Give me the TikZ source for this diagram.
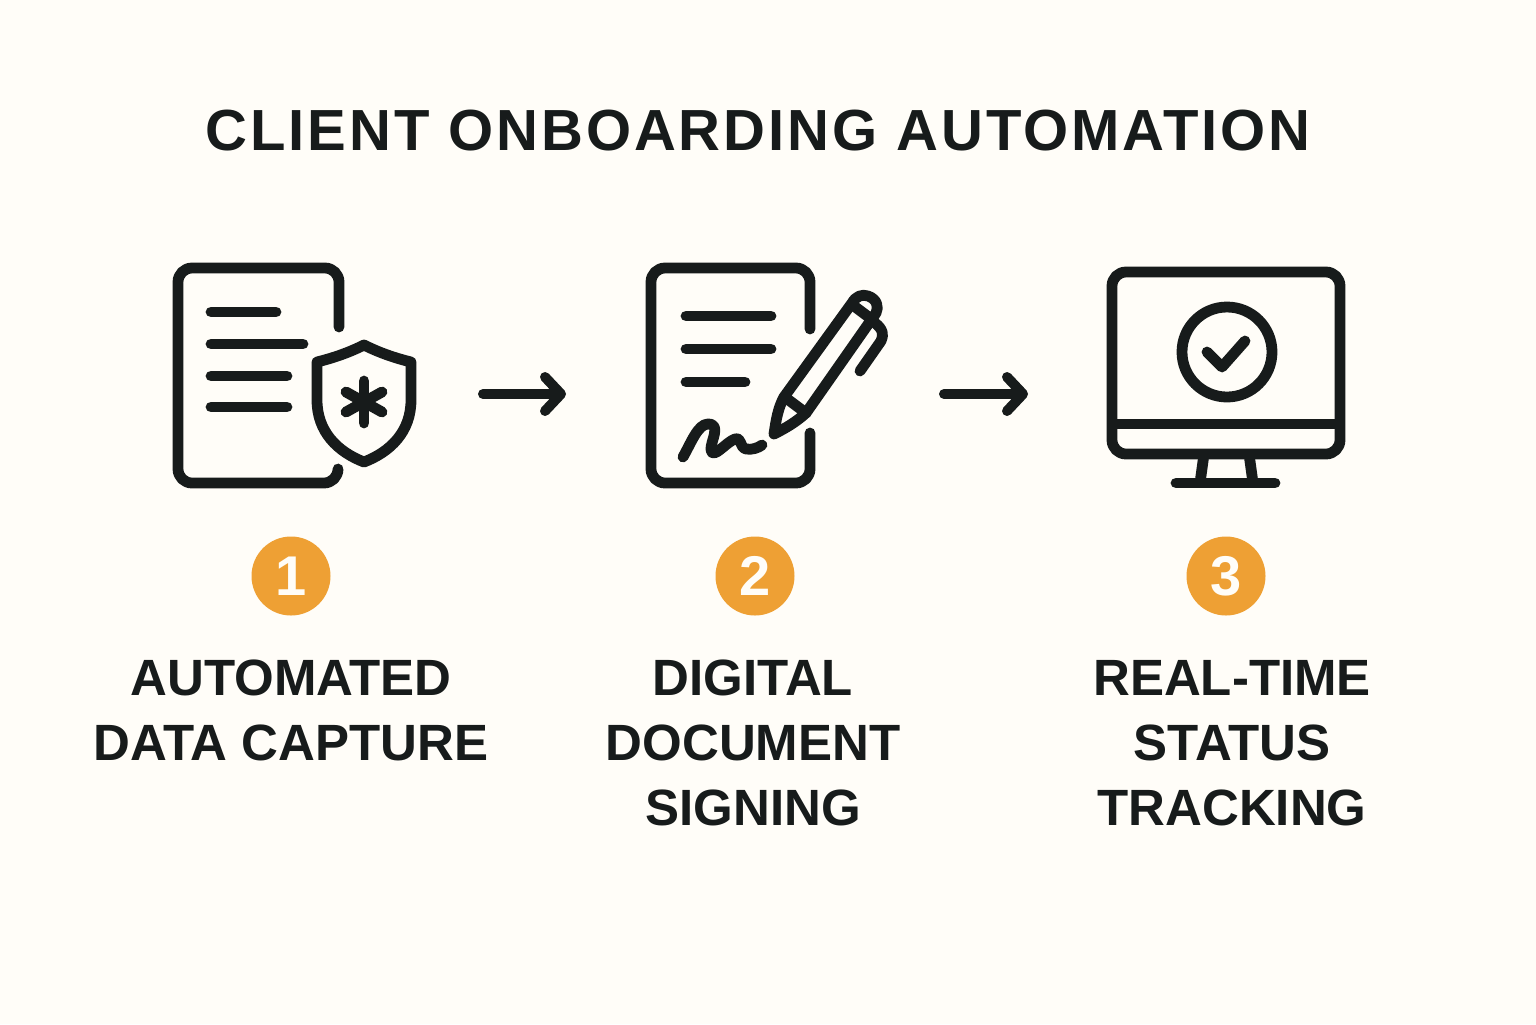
\documentclass[tikz,border=0pt]{standalone}
\usepackage{fontspec}
\setmainfont{Liberation Sans}
\newfontfamily\titlefont{Liberation Sans Bold}[LetterSpace=5]
\usetikzlibrary{arrows.meta}
\definecolor{inkColor}{HTML}{171B1B}
\definecolor{paperColor}{HTML}{FFFDF8}
\definecolor{badgeColor}{HTML}{EEA034}
\tikzset{
	iconStyle/.style = {draw = inkColor, line width = 5.4pt, line cap = round, line join = round},
	flowStyle/.style = {draw = inkColor, line width = 5pt, line cap = round, -{Straight Barb[length = 8pt, width = 17pt, round]}},
	badgeStyle/.style = {shape = circle, minimum size = 39.5pt, inner sep = 0pt, fill = badgeColor, text = paperColor, font = \fontsize{28}{28}\selectfont\bfseries},
	labelStyle/.style = {align = center, text = inkColor, font = \fontsize{25.5}{32.5}\selectfont\bfseries},
	titleStyle/.style = {text = inkColor, font = \fontsize{29}{29}\selectfont\titlefont}
}
\begin{document}
\begin{tikzpicture}[x = 0.5pt, y = -0.5pt]
	\fill[paperColor] (0,0) rectangle (1536,1024);
	\useasboundingbox (0,0) rectangle (1536,1024);
	\node[titleStyle] (title) at (758,131) {CLIENT ONBOARDING AUTOMATION};
	% first icon
	\draw[iconStyle] (339,327) -- (339,282) arc[start angle = 0, end angle = -90, radius = 14] -- (192,268) arc[start angle = 270, end angle = 180, radius = 14] -- (178,469) arc[start angle = 180, end angle = 90, radius = 14] -- (324,483) arc[start angle = 90, end angle = 0, radius = 14];
	\draw[iconStyle] (211,312) -- (276,312);
	\draw[iconStyle] (211,344) -- (303,344);
	\draw[iconStyle] (211,376) -- (287,376);
	\draw[iconStyle] (211,407) -- (287,407);
	\draw[iconStyle] (364,345) .. controls (380,353) and (395,358) .. (411,362) -- (411,400) .. controls (411,432) and (390,452) .. (364,462) .. controls (338,452) and (317,432) .. (317,400) -- (317,362) .. controls (333,358) and (348,353) .. (364,345) -- cycle;
	\draw[iconStyle] (364,381) -- (364,423);
	\draw[iconStyle] (346,392) -- (382,412);
	\draw[iconStyle] (346,412) -- (382,392);
	% second icon
	\draw[iconStyle] (810,329) -- (810,282) arc[start angle = 0, end angle = -90, radius = 14] -- (665,268) arc[start angle = 270, end angle = 180, radius = 14] -- (651,469) arc[start angle = 180, end angle = 90, radius = 14] -- (796,483) arc[start angle = 90, end angle = 0, radius = 14] -- (810,433);
	\draw[iconStyle] (686,316) -- (771,316);
	\draw[iconStyle] (686,349) -- (771,349);
	\draw[iconStyle] (686,382) -- (745,382);
	\draw[iconStyle] (683,457) .. controls (691,443) and (698,424) .. (708,424) .. controls (722,424) and (710,442) .. (711,450) .. controls (713,460) and (726,442) .. (735,439) .. controls (742,437) and (739,447) .. (746,449) .. controls (752,450) and (758,448) .. (762,445);
	\draw[iconStyle] (774,434) .. controls (776,420) and (778,408) .. (784,397) -- (852,303) .. controls (856,296) and (862,294) .. (868,296) .. controls (877,299) and (879,307) .. (876,313) -- (806,413) .. controls (796,422) and (786,428) .. (774,434) -- cycle;
	\draw[iconStyle] (786,398) -- (806,413);
	\draw[iconStyle] (854,306) -- (874,321);
	\draw[iconStyle] (875,323) .. controls (883,329) and (884,335) .. (881,341) -- (860,371);
	% third icon
	\draw[iconStyle, rounded corners = 7pt] (1112,272) rectangle (1340,454);
	\draw[iconStyle, line cap = butt] (1112,424) -- (1340,424);
	\draw[iconStyle] (1227,352) circle[radius = 45];
	\draw[iconStyle] (1207,352) -- (1222,367) -- (1245,341);
	\draw[iconStyle, line cap = butt] (1204,454) -- (1200,483);
	\draw[iconStyle, line cap = butt] (1249,454) -- (1253,483);
	\draw[iconStyle] (1176,483) -- (1275,483);
	% arrows between icons
	\coordinate (fromFirst) at (483,394);
	\coordinate (toSecond) at (566,394);
	\coordinate (fromSecond) at (944,394);
	\coordinate (toThird) at (1028,394);
	\draw[flowStyle] (fromFirst) -- (toSecond);
	\draw[flowStyle] (fromSecond) -- (toThird);
	% numbers and labels
	\node[badgeStyle] (badge1) at (291,576) {1};
	\node[badgeStyle] (badge2) at (755,576) {2};
	\node[badgeStyle] (badge3) at (1226,576) {3};
	\node[labelStyle, anchor = north] (label1) at (291,653) {AUTOMATED\\DATA CAPTURE};
	\node[labelStyle, anchor = north] (label2) at (753,653) {DIGITAL\\DOCUMENT\\SIGNING};
	\node[labelStyle, anchor = north] (label3) at (1232,653) {REAL-TIME\\STATUS\\TRACKING};
\end{tikzpicture}
\end{document}
